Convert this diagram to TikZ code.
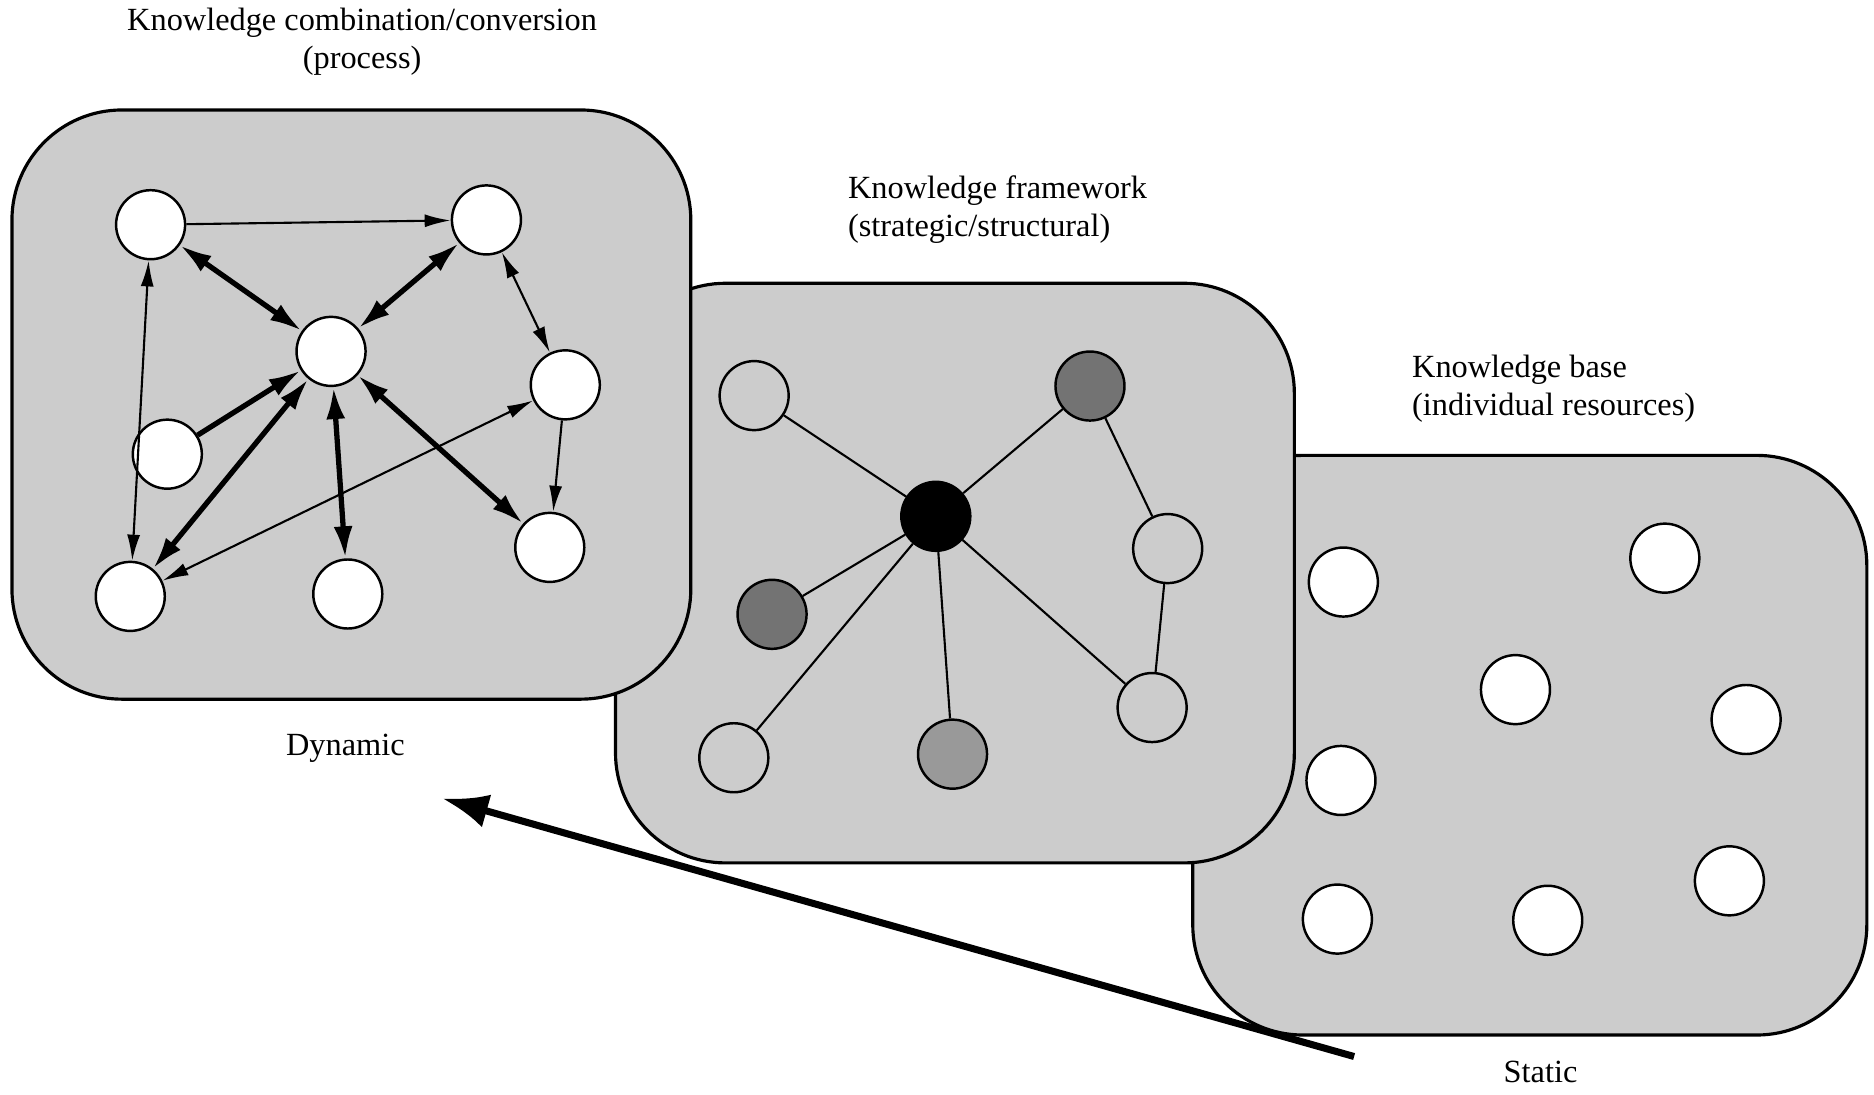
\documentclass[tikz,border=0pt]{standalone}
\usepackage{fontspec}
\setmainfont{Liberation Serif}
\usetikzlibrary{arrows.meta}

\begin{document}
\begin{tikzpicture}[x=0.01195cm, y=-0.01195cm]
		\tikzstyle{panel}=[draw=black, line width=0.9pt, fill=black!20, rounded corners=1.1cm]
		\tikzstyle{main}=[circle, minimum size=6.9mm, inner sep=0pt, draw=black, line width=0.7pt]
		\tikzstyle{title}=[font=\fontsize{9.2}{10.8}\selectfont, inner sep=0pt]
		\tikzstyle{connect}=[line width=0.6pt]
		\tikzstyle{oneway}=[line width=0.6pt, -{Latex[length=2.6mm,width=1.3mm]}]
		\tikzstyle{twoway}=[line width=0.6pt, {Latex[length=2.6mm,width=1.3mm]}-{Latex[length=2.6mm,width=1.3mm]}]
		\tikzstyle{strong}=[line width=1.5pt, {Latex[length=3.2mm,width=1.9mm]}-{Latex[length=3.2mm,width=1.9mm]}]
		\tikzstyle{strongone}=[line width=1.5pt, -{Latex[length=3.2mm,width=1.9mm]}]
		\useasboundingbox (0,0) rectangle (1568,916);
		
		% knowledge base
		\draw[panel] (998,381) rectangle (1562,866);
		\node[main, fill = white] (b1) at (1124,487) {};
		\node[main, fill = white] (b2) at (1393,467) {};
		\node[main, fill = white] (b3) at (1268,577) {};
		\node[main, fill = white] (b4) at (1461,602) {};
		\node[main, fill = white] (b5) at (1122,653) {};
		\node[main, fill = white] (b6) at (1447,737) {};
		\node[main, fill = white] (b7) at (1119,769) {};
		\node[main, fill = white] (b8) at (1295,770) {};
		
		% knowledge framework
		\draw[panel] (515,237) rectangle (1083,722);
		\node[main, fill = black]    (hub) at (783,432) {};
		\node[main]                  (f1)  at (631,331) {};
		\node[main, fill = black!55] (f2)  at (912,323) {};
		\node[main]                  (f3)  at (977,459) {};
		\node[main, fill = black!55] (f4)  at (646,514) {};
		\node[main]                  (f5)  at (614,634) {};
		\node[main, fill = black!40] (f6)  at (797,631) {};
		\node[main]                  (f7)  at (964,592) {};
		
		\path
		(hub) edge [connect] (f1)
		(hub) edge [connect] (f2)
		(hub) edge [connect] (f4)
		(hub) edge [connect] (f5)
		(hub) edge [connect] (f6)
		(hub) edge [connect] (f7)
		(f2) edge [connect] (f3)
		(f3) edge [connect] (f7)
		;
		
		% knowledge combination
		\draw[panel] (10,92) rectangle (578,585);
		\node[main, fill = white] (c1) at (126,188) {};
		\node[main, fill = white] (c2) at (407,184) {};
		\node[main, fill = white] (c3) at (277,294) {};
		\node[main, fill = white] (c4) at (473,322) {};
		\node[main, fill = white] (c5) at (140,380) {};
		\node[main, fill = white] (c6) at (460,458) {};
		\node[main, fill = white] (c7) at (109,499) {};
		\node[main, fill = white] (c8) at (291,497) {};
		
		\path
		(c1) edge [oneway] (c2)
		(c1) edge [strong] (c3)
		(c2) edge [strong] (c3)
		(c2) edge [twoway] (c4)
		(c5) edge [strongone] (c3)
		(c7) edge [strong] (c3)
		(c8) edge [strong] (c3)
		(c6) edge [strong] (c3)
		(c4) edge [oneway] (c6)
		(c1) edge [twoway] (c7)
		(c4) edge [twoway] (c7)
		;
		
		% titles
		\node[title, align=center] (tcomb) at (303,35) {Knowledge combination/conversion\\(process)};
		\node[title, align=left, anchor=west] (tframe) at (709,175) {Knowledge framework\\(strategic/structural)};
		\node[title, align=left, anchor=west] (tbase) at (1181,325) {Knowledge base\\(individual resources)};
		\node[title] (dynamic) at (289,626) {Dynamic};
		\node[title] (static) at (1289,897) {Static};
		
		% static to dynamic
		\coordinate (tail) at (1133,884);
		\coordinate (tip) at (370,668);
		\draw[line width=2pt, -{Latex[length=4.6mm,width=3.4mm]}] (tail) -- (tip);
		
\end{tikzpicture}
\end{document}
